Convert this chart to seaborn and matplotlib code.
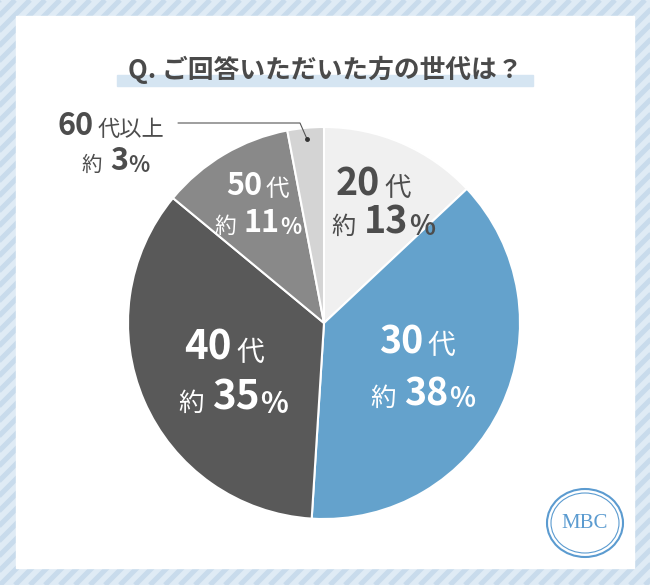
import numpy as np
import seaborn as sns
import matplotlib.pyplot as plt
from matplotlib.patches import Rectangle, Ellipse

# data
ages = ['20代', '30代', '40代', '50代', '60代以上']
shares = [13, 38, 35, 11, 3]
colors = ['#f0f0f0', '#64a2cc', '#595959', '#898989', '#d4d4d4']
title = 'Q. ご回答いただいた方の世代は？'

sns.set_theme(style='white')
plt.rcParams['font.family'] = ['Noto Sans CJK JP', 'DejaVu Sans']

W, H = 650, 585
fig = plt.figure(figsize=(W / 100, H / 100), dpi=100)

# background axes in pixel coords
bg = fig.add_axes([0, 0, 1, 1])
bg.set_xlim(0, W)
bg.set_ylim(H, 0)
bg.axis('off')
bg.add_patch(Rectangle((0, 0), W, H, color='#dfebf5', zorder=0))
for x0 in np.arange(-H, W + H, 15):
    bg.plot([x0, x0 + H], [H, 0], color='#c8dbec', lw=3.6, zorder=1,
            solid_capstyle='butt')
bg.add_patch(Rectangle((16, 16), 618, 552, color='white', zorder=2))

# title with highlight bar
bg.add_patch(Rectangle((117, 75), 416, 11, color='#d5e5f2', zorder=3))
bg.text(325, 70, title, ha='center', va='center', fontsize=18.5,
        fontweight='bold', color='#4a4a4a', zorder=4)

# pie
cx, cy, r = 324, 323, 196
pax = fig.add_axes([(cx - r) / W, (H - cy - r) / H, 2 * r / W, 2 * r / H])
pax.pie(shares, colors=colors, startangle=90, counterclock=False,
        wedgeprops=dict(edgecolor='white', linewidth=1.5))
pax.set_xlim(-1, 1)
pax.set_ylim(-1, 1)

# overlay for labels
ov = fig.add_axes([0, 0, 1, 1])
ov.set_xlim(0, W)
ov.set_ylim(H, 0)
ov.axis('off')


def label(name, pct, col, x1, y1, x2, y2, big, small):
    num, suffix = name[:2], name[2:]
    ov.text(x1 - 3, y1, num, ha='right', va='baseline', fontsize=big,
            fontweight='bold', color=col)
    ov.text(x1 + 1, y1 + 1, suffix, ha='left', va='baseline', fontsize=small,
            color=col)
    ov.text(x2 - 4, y2 + 1, '約', ha='right', va='baseline', fontsize=small * 0.92,
            color=col)
    t = ov.text(x2 + 4, y2, str(pct), ha='left', va='baseline', fontsize=big,
                fontweight='bold', color=col)
    ov.annotate('%', xycoords=t, xy=(1, 0), xytext=(0.5, 0), textcoords='offset points',
                ha='left', va='bottom', fontsize=big * 0.72, fontweight='bold',
                color=col)


dark = '#4d4d4d'
label(ages[0], shares[0], dark, 383, 195, 360, 233, 27, 19)
label(ages[1], shares[1], 'white', 426, 353, 400, 405, 27, 20)
label(ages[2], shares[2], 'white', 235, 360, 208, 410, 29, 20)
label(ages[3], shares[3], 'white', 265, 195, 240, 232, 22, 17)
label(ages[4], shares[4], dark, 97, 135, 106, 170, 22, 16)

# leader for 60代以上
ov.plot([178, 300, 307], [123, 123, 139], color='#555555', lw=0.8)
ov.plot([307], [139], 'o', color='#333333', ms=2.5)

# logo
blue = '#5b9bd0'
ov.add_patch(Ellipse((585, 523), 76, 68, fill=False, ec=blue, lw=1.5))
ov.add_patch(Ellipse((585, 523), 68, 60, fill=False, ec=blue, lw=0.8))
ov.text(585, 524, 'MBC', ha='center', va='center', fontsize=15,
        family='Liberation Serif', color=blue)

plt.savefig('out.png', dpi=100)
